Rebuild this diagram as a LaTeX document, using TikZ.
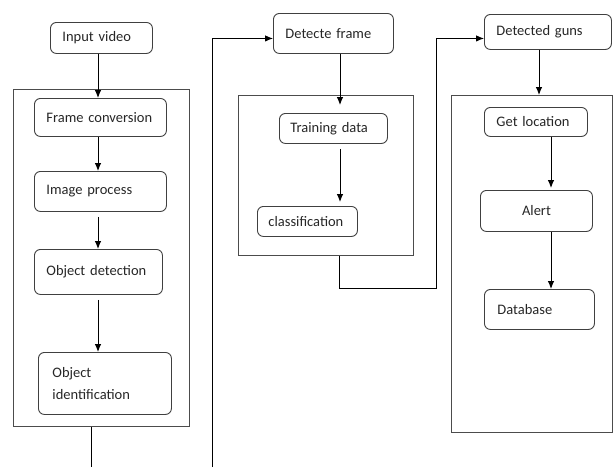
\documentclass[tikz,border=0pt]{standalone}
\usepackage{fontspec}
\setmainfont{Carlito}
\usetikzlibrary{positioning}
\usetikzlibrary{arrows.meta,calc}

\begin{document}
\begin{tikzpicture}[
x=1pt, y=-1pt,
bloc/.style = {
  draw=black!75,
  line width=0.9pt,
  rounded corners=6pt,
  anchor=north west,
  inner xsep=12pt,
  inner ysep=0pt,
  align=left,
  text=black!85,
  font=\fontsize{14.5}{21.5}\selectfont},
cadre/.style = {draw=black!70, line width=1pt, anchor=north west,
  inner sep=0pt},
line/.style = {draw=black, line width=0.9pt, -{Latex[length=8pt,width=6.5pt]}},
]
\useasboundingbox (0,0) rectangle (613,467);

% first column
\node[cadre, minimum width=176, minimum height=337] (cadreA) at (13,89) {};
\node[bloc, text width=78, minimum height=31] (input) at (50,22) {Input video};
\node[bloc, text width=108, minimum height=38] (conv) at (34,98) {Frame conversion};
\node[bloc, text width=108, minimum height=40] (imgp) at (34,171) {Image process};
\node[bloc, text width=104, minimum height=45] (objdet) at (34,249) {Object detection};
\node[bloc, text width=105, inner xsep=14pt, minimum height=62] (objid) at (38,352) {Object\\identification};

% second column
\node[cadre, minimum width=175, minimum height=160] (cadreB) at (238,95) {};
\node[bloc, text width=96, minimum height=40] (detf) at (273,13) {Detecte frame};
\node[bloc, text width=86, inner xsep=11pt, minimum height=30] (train) at (279,113) {Training data};
\node[bloc, text width=78, inner xsep=11pt, minimum height=30] (classif) at (257,206) {classification};

% third column
\node[cadre, minimum width=161, minimum height=337] (cadreC) at (451,95) {};
\node[bloc, text width=103, minimum height=35] (guns) at (484,14) {Detected guns};
\node[bloc, text width=79, minimum height=29] (getloc) at (484,107) {Get location};
\node[bloc, text width=74, inner xsep=19pt, align=center, minimum height=41] (alert) at (480,190) {Alert};
\node[bloc, text width=84, inner xsep=13pt, minimum height=40] (database) at (484,289) {Database};

% columns of the arrows, free ends and bends
\coordinate (colA) at (98,0);
\coordinate (colB) at (340,0);
\coordinate (colC) at (539,0);
\coordinate (colD) at (551,0);
\coordinate (outA) at (91,467);
\coordinate (inB) at (212,467);
\coordinate (kneeB) at (339,288);
\coordinate (kneeC) at (436,288);

\begin{scope}[every path/.style=line]
\path (input.south -| colA) -- (conv.north -| colA);
\path (conv.south -| colA) -- (imgp.north -| colA);
\path ($(imgp.south -| colA)+(0,5)$) -- (objdet.north -| colA);
\path ($(objdet.south -| colA)+(0,5)$) -- (objid.north -| colA);
\path (inB) |- ($(detf.west)+(0,5)$);
\path (detf.south -| colB) -- ($(train.north -| colB)+(0,-8)$);
\path ($(train.south -| colB)+(0,5)$) -- ($(classif.north -| colB)+(0,-4)$);
\path (guns.south -| colC) -- (cadreC.north -| colC);
\path (getloc.south -| colD) -- ($(alert.north -| colD)+(0,-2)$);
\path (alert.south -| colD) -- (database.north -| colD);
\end{scope}
\draw[line, -] (cadreA.south -| outA) -- (outA);
\draw[line] (cadreB.south -| kneeB) -- (kneeB) -- (kneeC) |- ($(guns.west)+(0,6.5)$);
\end{tikzpicture}
\end{document}
